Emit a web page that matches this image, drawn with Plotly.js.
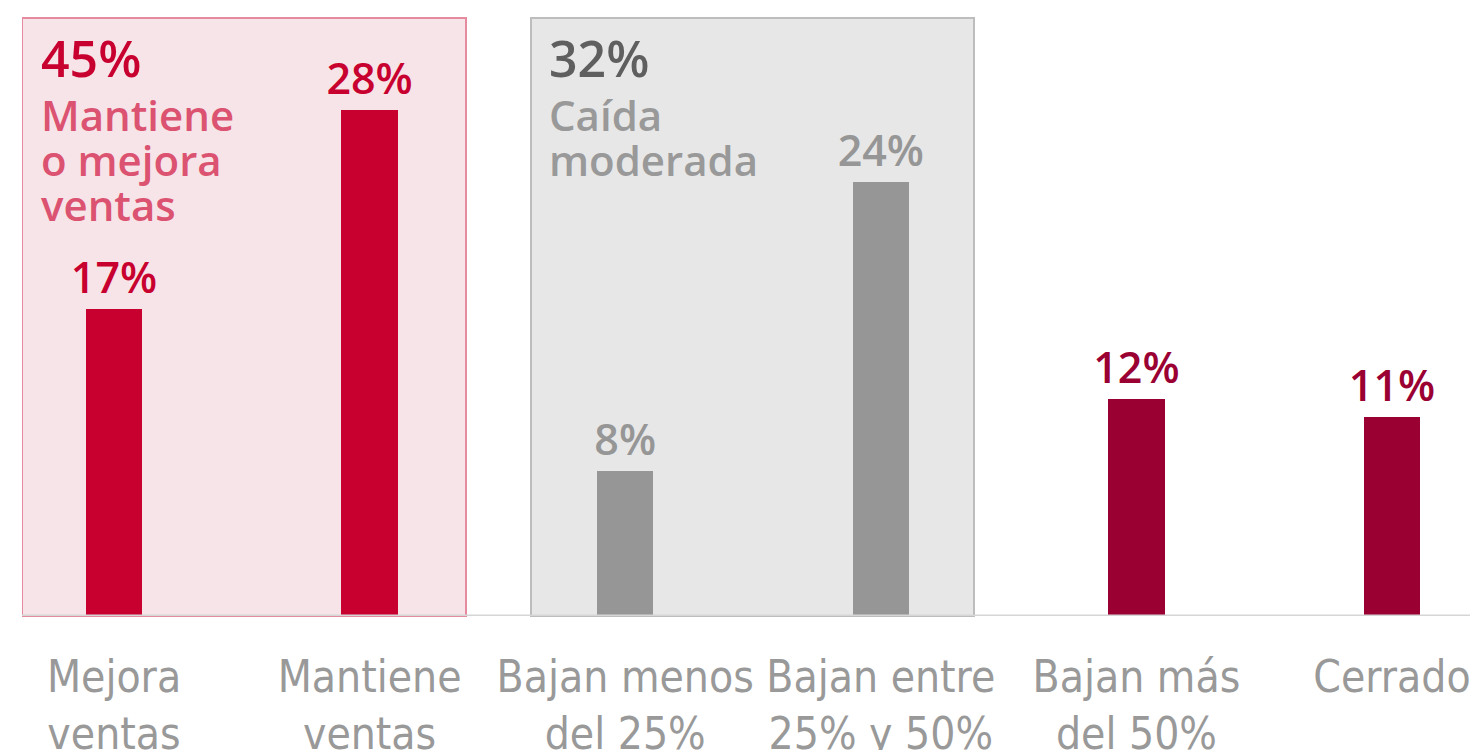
<!DOCTYPE html>
<html>
<head>
<meta charset="utf-8">
<script src="https://cdn.plot.ly/plotly-3.0.1.min.js"></script>
<style>html,body{margin:0;padding:0;background:#fff;}#chart{width:1470px;height:750px;}</style>
</head>
<body>
<div id="chart"></div>
<script>
const categories = ["Mejora<br>ventas", "Mantiene<br>ventas", "Bajan menos<br>del 25%", "Bajan entre<br>25% y 50%", "Bajan más<br>del 50%", "Cerrado"];
const values = [17, 28, 8, 24, 12, 11];
const valueLabels = ["17%", "28%", "8%", "24%", "12%", "11%"];
const barColors = ["#C8002F", "#C8002F", "#969696", "#969696", "#9B0033", "#9B0033"];
const groupTotals = ["45%", "32%"];
const groupLines = [["Mantiene", "o mejora", "ventas"], ["Caída", "moderada"]];

const xs = categories.map((c, i) => i);
const pxPerUnitX = 255.6, pxPerUnitY = 18.07, baseY = 616, x0px = 114;
const toX = px => (px - x0px) / pxPerUnitX;
const toY = py => (baseY - py) / pxPerUnitY;

const trace = {
  type: "bar",
  x: xs,
  y: values,
  width: 0.22,
  marker: {color: barColors},
  text: valueLabels,
  textposition: "outside",
  constraintext: "none",
  textfont: {family: "Open Sans, sans-serif", size: 43, weight: 600, color: barColors},
  cliponaxis: false,
  hoverinfo: "none"
};

const shapes = [
  {type: "rect", layer: "below", xref: "x", yref: "paper", x0: toX(22), x1: toX(466), y0: 0, y1: 1,
   fillcolor: "#F7E4E8", line: {color: "#E68AA0", width: 2}},
  {type: "rect", layer: "below", xref: "x", yref: "paper", x0: toX(531), x1: toX(974), y0: 0, y1: 1,
   fillcolor: "#E7E7E7", line: {color: "#BDBDBD", width: 2}}
];

const annotations = [];
const totalColors = ["#C8002F", "#5F5F5F"];
const lineColors = ["#DB5371", "#999999"];
const groupXpx = [42, 550];
groupTotals.forEach((t, g) => {
  annotations.push({xref: "x", yref: "y", x: toX(groupXpx[g] - 3), y: toY(58), xanchor: "left", yanchor: "middle",
    text: t, showarrow: false, font: {family: "Open Sans, sans-serif", size: 50, weight: 600, color: totalColors[g]}});
  groupLines[g].forEach((ln, k) => {
    annotations.push({xref: "x", yref: "y", x: toX(groupXpx[g] - 3), y: toY(114 + 45 * k), xanchor: "left", yanchor: "middle",
      text: ln, showarrow: false, font: {family: "Open Sans, sans-serif", size: 42, weight: 600, color: lineColors[g]}});
  });
});

const layout = {
  width: 1470, height: 750,
  margin: {l: 22, r: 0, t: 18, b: 134},
  paper_bgcolor: "#ffffff", plot_bgcolor: "rgba(0,0,0,0)",
  showlegend: false,
  bargap: 0,
  xaxis: {
    range: [toX(22), toX(1470)], tickmode: "array", tickvals: xs, ticktext: categories,
    showgrid: false, zeroline: false, showline: false, ticks: "",
    ticklabelstandoff: 31,
    ticklabeloverflow: "allow",
    tickfont: {family: "Liberation Sans Narrow, DejaVu Sans Condensed, sans-serif", size: 44, color: "#999999"},
    fixedrange: true
  },
  yaxis: {range: [0, toY(18)], visible: false, fixedrange: true, showgrid: false, zeroline: false},
  shapes: shapes.concat([{type: "line", xref: "paper", yref: "y", x0: 0, x1: 1, y0: 0, y1: 0, line: {color: "#D6D6D6", width: 3}}]),
  annotations: annotations
};

Plotly.newPlot("chart", [trace], layout, {displayModeBar: false, staticPlot: true});
</script>
</body>
</html>
